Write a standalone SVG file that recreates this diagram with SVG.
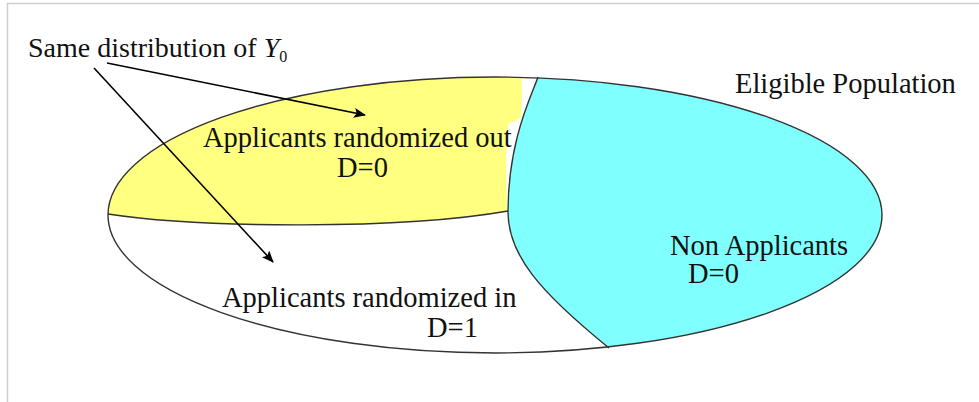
<svg xmlns="http://www.w3.org/2000/svg" width="979" height="402" viewBox="0 0 979 402">
  <style>
    .t { font-family: "Liberation Serif", "Times New Roman", serif; font-size: 28.5px; fill: #111; }
    .edge { fill: none; stroke: #333; stroke-width: 1.4; }
    .arrow { fill: none; stroke: #000; stroke-width: 1.6; marker-end: url(#ah); }
  </style>
  <defs>
    <marker id="ah" viewBox="0 0 12 10" refX="11" refY="5" markerWidth="12" markerHeight="10" markerUnits="userSpaceOnUse" orient="auto">
      <path d="M0,0 L12,5 L0,10 L2.5,5 Z" fill="#000"/>
    </marker>
    <clipPath id="clipEll">
      <ellipse cx="495" cy="215" rx="387" ry="138"/>
    </clipPath>
  </defs>
  <rect width="979" height="402" fill="#fff"/>
  <path d="M7.5,402 V3.5 H979" fill="none" stroke="#d0d0d0" stroke-width="1.5"/>

  <g id="population">
    <ellipse cx="495" cy="215" rx="387" ry="138" fill="#fff"/>
  </g>

  <g id="randomized-out">
    <path clip-path="url(#clipEll)" d="M90,214 L108,214 C200,228 400,230 507,211 L506,160 L508,124 L521,118 L522,95 L521,60 L90,60 Z" fill="#ffff80"/>
    <text class="t" x="203" y="147">Applicants randomized out</text>
    <text class="t" x="337" y="177">D=0</text>
  </g>

  <g id="non-applicants">
    <path clip-path="url(#clipEll)" d="M543,60 L538,77 C532,95 508,140 508,212 C508,255 540,292 609,348 L630,370 L900,370 L900,60 Z" fill="#80ffff"/>
    <text class="t" x="670" y="255">Non Applicants</text>
    <text class="t" x="688" y="283">D=0</text>
  </g>

  <g id="randomized-in">
    <text class="t" x="222" y="307">Applicants randomized in</text>
    <text class="t" x="427" y="337">D=1</text>
  </g>

  <g id="outlines">
    <ellipse class="edge" cx="495" cy="215" rx="387" ry="138"/>
    <path class="edge" d="M108,214 C200,228 400,230 508,211"/>
    <path class="edge" d="M538,77 C532,95 508,140 508,212 C508,255 540,292 609,348"/>
  </g>

  <g id="labels">
    <text class="t" x="735" y="93">Eligible Population</text>
    <text class="t" x="28" y="57" style="font-size:28px">Same distribution of <tspan font-style="italic">Y</tspan><tspan font-size="16" dy="5">0</tspan></text>
  </g>

  <g id="connectors">
    <line class="arrow" x1="107" y1="63" x2="365" y2="115"/>
    <line class="arrow" x1="94" y1="68" x2="273" y2="262"/>
  </g>
</svg>
